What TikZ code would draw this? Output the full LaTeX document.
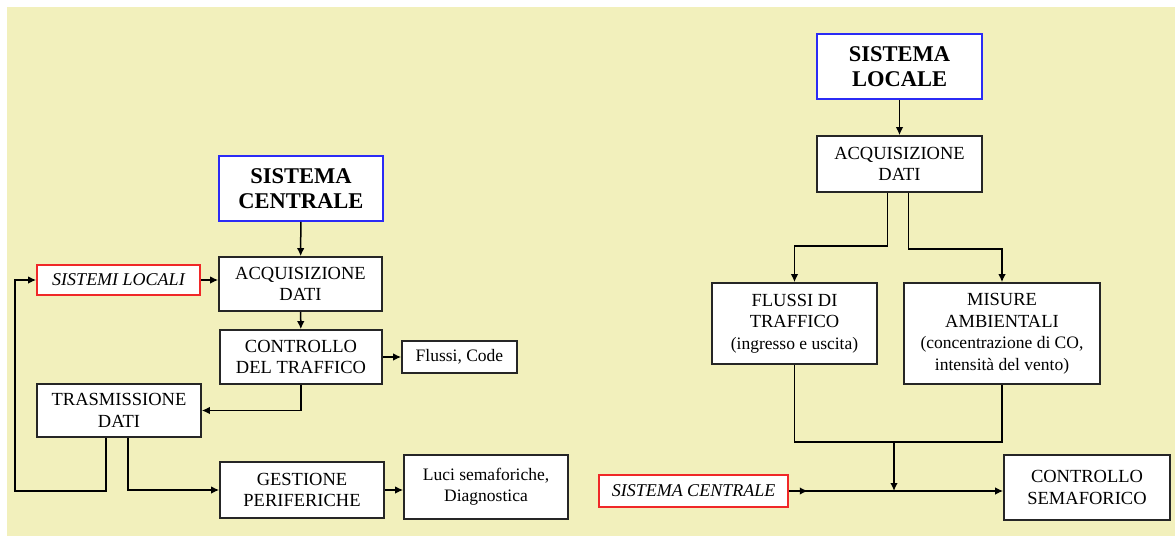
\documentclass[tikz,border=0pt]{standalone}
\usepackage{fontspec}
\setmainfont{Liberation Serif}
\usetikzlibrary{arrows.meta}
\definecolor{sfondo}{HTML}{F2F0BC}
\definecolor{blu}{HTML}{2B2BF5}
\definecolor{rosso}{HTML}{F02828}
\begin{document}
\begin{tikzpicture}[x=1pt, y=-1pt,
    boxStyle/.style={draw=black!85, fill=white, line width=1.6pt, inner sep=0pt, align=center,
        font=\fontsize{18.5}{21.5}\selectfont},
    titleStyle/.style={boxStyle, draw=blu, font=\fontsize{22.5}{25}\selectfont\bfseries},
    sourceStyle/.style={boxStyle, draw=rosso, font=\fontsize{18}{20}\selectfont\itshape},
    smallStyle/.style={boxStyle, font=\fontsize{17.5}{21}\selectfont},
    arr/.style={line width=1.5pt, -{Latex[length=8pt,width=7.5pt]}},
    lin/.style={line width=1.5pt}]
    \useasboundingbox (0,0) rectangle (1175,536);
    \fill[white] (0,0) rectangle (1175,536);
    \fill[sfondo] (7,7) rectangle (1175,536);

    % sistema centrale
    \node[titleStyle, minimum width=164, minimum height=65](sc) at (301, 188.5) {SISTEMA\\CENTRALE};
    \node[boxStyle, minimum width=163, minimum height=54](acq) at (300.5, 284) {ACQUISIZIONE\\DATI};
    \node[sourceStyle, minimum width=163, minimum height=30](sl) at (118.5, 280) {SISTEMI LOCALI};
    \node[boxStyle, minimum width=162, minimum height=54](ctrl) at (301, 357) {CONTROLLO\\DEL TRAFFICO};
    \node[smallStyle, minimum width=115, minimum height=32](fc) at (459.5, 357) {Flussi, Code};
    \node[boxStyle, minimum width=164, minimum height=53](tras) at (119, 410.5) {TRASMISSIONE\\DATI};
    \node[boxStyle, minimum width=164, minimum height=56](gest) at (302, 490) {GESTIONE\\PERIFERICHE};
    \node[smallStyle, minimum width=164, minimum height=64](luci) at (486, 487) {Luci semaforiche,\\Diagnostica};
    \coordinate (ang) at (15, 491);

    \draw[arr] (sc) -- (acq);
    \draw[arr] (acq) -- (ctrl);
    \draw[arr] (sl.east) -- (sl.east -| acq.west);
    \draw[arr] (ctrl.east) -- (ctrl.east -| fc.west);
    \draw[arr] (ctrl.south) |- (tras.east);
    \draw[arr] ([xshift=9pt]tras.south) |- (gest.west);
    \draw[arr] ([xshift=-13pt]tras.south) |- (ang) |- (sl.west);
    \draw[arr] (gest.east) -- (gest.east -| luci.west);

    % sistema locale
    \node[titleStyle, minimum width=165, minimum height=65](slo) at (899.5, 66.5) {SISTEMA\\LOCALE};
    \node[boxStyle, minimum width=165, minimum height=56](acq2) at (899.5, 164) {ACQUISIZIONE\\DATI};
    \node[boxStyle, minimum width=165, minimum height=81](flx) at (794.5, 323.5) {FLUSSI DI\\TRAFFICO\\{\fontsize{17.5}{21}\selectfont(ingresso e uscita)}};
    \node[boxStyle, minimum width=196, minimum height=101](mis) at (1002, 333.5) {MISURE\\AMBIENTALI\\{\fontsize{17.5}{21}\selectfont(concentrazione di CO,}\\{\fontsize{17.5}{21}\selectfont intensità del vento)}};
    \node[sourceStyle, minimum width=189, minimum height=32](scr) at (693.5, 491) {SISTEMA CENTRALE};
    \node[boxStyle, minimum width=166, minimum height=65](cs) at (1087, 487.5) {CONTROLLO\\SEMAFORICO};
    \coordinate (unione) at (894, 442);
    \coordinate (ingresso) at (894, 491);

    \draw[arr] (slo) -- (acq2);
    \draw[arr] ([xshift=-12pt]acq2.south) -- ++(0,53) -| (flx.north);
    \draw[arr] ([xshift=9pt]acq2.south) -- ++(0,56) -| (mis.north);
    \draw[lin] (flx.south) |- (unione) -| (mis.south);
    \draw[arr] (unione) -- (ingresso);
    \draw[arr] (scr.east) -- ++(19,0);
    \draw[arr] (scr.east) -- (scr.east -| cs.west);
\end{tikzpicture}
\end{document}
